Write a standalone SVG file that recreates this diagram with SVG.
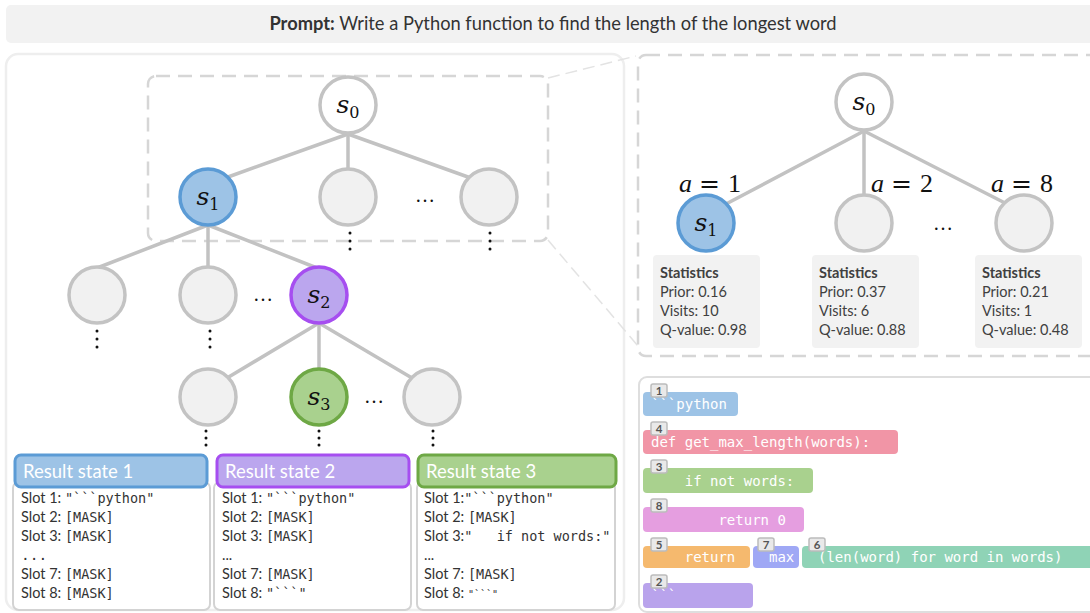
<svg xmlns="http://www.w3.org/2000/svg" width="1090" height="613" viewBox="0 0 1090 613">
<defs>
<style>
.sans{font-family:Lato,"Open Sans","Liberation Sans",sans-serif;}
.mono{font-family:"DejaVu Sans Mono","Liberation Mono",monospace;}
.edge{stroke:#c2c2c2;stroke-width:3.5;fill:none;stroke-linecap:round;}
.ng{fill:#f1f1f1;stroke:#c3c3c3;stroke-width:3.5;}
.nw{fill:#ffffff;stroke:#c3c3c3;stroke-width:3.5;}
.nb{fill:#9dc3e6;stroke:#5b9bd5;stroke-width:3.5;}
.np{fill:#bba6ee;stroke:#a64ef0;stroke-width:3.5;}
.ngr{fill:#a9d18e;stroke:#6ea845;stroke-width:3.5;}
.m{font-family:"DejaVu Serif",serif;font-style:italic;font-size:25px;fill:#111;text-anchor:middle;}
.sub{font-style:normal;font-size:16px;}
.dots{font-family:"Liberation Serif",serif;font-size:20px;fill:#111;text-anchor:middle;}
.vd{fill:#111;}
.lab{font-family:"Liberation Serif",serif;font-size:26px;fill:#111;}
.eq{font-family:"DejaVu Serif",serif;font-size:25px;}
.stat{fill:#f2f2f2;}
.st{font-size:14.5px;fill:#404040;}
.hdr{font-size:18.5px;fill:#ffffff;}
.slot{font-size:14.5px;fill:#333;}
.code{font-size:13.5px;}
.blk{stroke:none;}
.ct{font-size:14px;fill:#ffffff;white-space:pre;}
.badge{fill:#e9e9e9;stroke:#bcbcbc;stroke-width:1.5;}
.bt{font-size:11.5px;font-weight:bold;fill:#555;text-anchor:middle;}
</style>
</defs>

<!-- prompt bar -->
<g id="prompt">
<rect x="6" y="5" width="1100" height="38" rx="5" fill="#f2f2f2"/>
<text class="sans" x="553" y="30" text-anchor="middle" font-size="18.3" fill="#333"><tspan font-weight="bold">Prompt:</tspan> Write a Python function to find the length of the longest word</text>
</g>

<!-- panels -->
<g id="panels">
<rect x="6" y="54" width="618" height="556" rx="12" fill="none" stroke="#eeeeee" stroke-width="2.5"/>
<rect x="148" y="76" width="400" height="165" rx="8" fill="none" stroke="#d6d6d6" stroke-width="2.5" stroke-dasharray="14 8"/>
<rect x="638" y="55" width="480" height="301" rx="8" fill="none" stroke="#d6d6d6" stroke-width="2.5" stroke-dasharray="14 8"/>
<rect x="639" y="377" width="480" height="235" rx="8" fill="none" stroke="#dedede" stroke-width="2"/>
</g>

<!-- connectors -->
<g id="connectors">
<line x1="548" y1="78" x2="636" y2="56" stroke="#e3e3e3" stroke-width="1.5" stroke-dasharray="12 6"/>
<line x1="548" y1="240" x2="638" y2="346" stroke="#e3e3e3" stroke-width="1.5" stroke-dasharray="12 6"/>
<line class="edge" x1="348" y1="134" x2="228" y2="177"/>
<line class="edge" x1="348" y1="134" x2="348" y2="170"/>
<line class="edge" x1="348" y1="134" x2="468" y2="177"/>
<line class="edge" x1="208" y1="225" x2="97" y2="268"/>
<line class="edge" x1="208" y1="225" x2="208" y2="268"/>
<line class="edge" x1="208" y1="225" x2="317" y2="268"/>
<line class="edge" x1="319" y1="323" x2="227" y2="378"/>
<line class="edge" x1="319" y1="323" x2="319" y2="370"/>
<line class="edge" x1="319" y1="323" x2="412" y2="378"/>
<line class="edge" x1="864" y1="131" x2="726" y2="204"/>
<line class="edge" x1="864" y1="131" x2="864" y2="195"/>
<line class="edge" x1="864" y1="131" x2="1005" y2="203"/>
</g>

<!-- left tree nodes -->
<g id="L-s0"><circle class="nw" cx="348" cy="105" r="28"/><text class="m" x="348" y="113">s<tspan class="sub" dy="5">0</tspan></text></g>
<g id="L-s1"><circle class="nb" cx="208" cy="197" r="28"/><text class="m" x="208" y="205">s<tspan class="sub" dy="5">1</tspan></text></g>
<g id="L-n12"><circle class="ng" cx="348" cy="197" r="28"/></g>
<g id="L-n13"><circle class="ng" cx="489" cy="197" r="28"/></g>
<g id="L-n21"><circle class="ng" cx="97" cy="295" r="28"/></g>
<g id="L-n22"><circle class="ng" cx="208" cy="295" r="28"/></g>
<g id="L-s2"><circle class="np" cx="319" cy="295" r="28"/><text class="m" x="319" y="303">s<tspan class="sub" dy="5">2</tspan></text></g>
<g id="L-n31"><circle class="ng" cx="208" cy="397" r="28"/></g>
<g id="L-s3"><circle class="ngr" cx="319" cy="397" r="28"/><text class="m" x="319" y="405">s<tspan class="sub" dy="5">3</tspan></text></g>
<g id="L-n33"><circle class="ng" cx="432" cy="397" r="28"/></g>

<g id="L-ellipsis">
<text class="dots" x="425" y="202">…</text>
<text class="dots" x="263" y="301">…</text>
<text class="dots" x="374" y="403">…</text>
<circle class="vd" cx="350" cy="233" r="1.5"/><circle class="vd" cx="350" cy="241" r="1.5"/><circle class="vd" cx="350" cy="249" r="1.5"/>
<circle class="vd" cx="490" cy="233" r="1.5"/><circle class="vd" cx="490" cy="241" r="1.5"/><circle class="vd" cx="490" cy="249" r="1.5"/>
<circle class="vd" cx="97" cy="331" r="1.5"/><circle class="vd" cx="97" cy="339" r="1.5"/><circle class="vd" cx="97" cy="347" r="1.5"/>
<circle class="vd" cx="210" cy="331" r="1.5"/><circle class="vd" cx="210" cy="339" r="1.5"/><circle class="vd" cx="210" cy="347" r="1.5"/>
<circle class="vd" cx="206" cy="431" r="1.5"/><circle class="vd" cx="206" cy="438" r="1.5"/><circle class="vd" cx="206" cy="445" r="1.5"/>
<circle class="vd" cx="319" cy="431" r="1.5"/><circle class="vd" cx="319" cy="438" r="1.5"/><circle class="vd" cx="319" cy="445" r="1.5"/>
<circle class="vd" cx="433" cy="431" r="1.5"/><circle class="vd" cx="433" cy="438" r="1.5"/><circle class="vd" cx="433" cy="445" r="1.5"/>
</g>

<!-- right tree -->
<g id="R-s0"><circle class="nw" cx="864" cy="102" r="28"/><text class="m" x="864" y="110">s<tspan class="sub" dy="5">0</tspan></text></g>
<g id="R-s1"><circle class="nb" cx="706" cy="223" r="28"/><text class="m" x="706" y="231">s<tspan class="sub" dy="5">1</tspan></text>
<text class="lab"><tspan x="679" y="192" font-style="italic">a</tspan><tspan class="eq" x="699" y="192">=</tspan><tspan x="728" y="192">1</tspan></text></g>
<g id="R-n2"><circle class="ng" cx="864" cy="223" r="28"/>
<text class="lab"><tspan x="871" y="192" font-style="italic">a</tspan><tspan class="eq" x="891" y="192">=</tspan><tspan x="920" y="192">2</tspan></text></g>
<g id="R-n8"><circle class="ng" cx="1024" cy="223" r="28"/>
<text class="lab"><tspan x="991" y="192" font-style="italic">a</tspan><tspan class="eq" x="1011" y="192">=</tspan><tspan x="1040" y="192">8</tspan></text></g>
<text class="dots" x="943" y="230">…</text>

<!-- statistics -->
<g id="stats1"><rect class="stat" x="653" y="255" width="107" height="93" rx="4"/>
<text class="sans st" x="660" y="278" font-weight="bold">Statistics</text>
<text class="sans st" x="660" y="297">Prior: 0.16</text>
<text class="sans st" x="660" y="316">Visits: 10</text>
<text class="sans st" x="660" y="335">Q-value: 0.98</text></g>
<g id="stats2"><rect class="stat" x="812" y="255" width="107" height="93" rx="4"/>
<text class="sans st" x="819" y="278" font-weight="bold">Statistics</text>
<text class="sans st" x="819" y="297">Prior: 0.37</text>
<text class="sans st" x="819" y="316">Visits: 6</text>
<text class="sans st" x="819" y="335">Q-value: 0.88</text></g>
<g id="stats3"><rect class="stat" x="975" y="255" width="107" height="93" rx="4"/>
<text class="sans st" x="982" y="278" font-weight="bold">Statistics</text>
<text class="sans st" x="982" y="297">Prior: 0.21</text>
<text class="sans st" x="982" y="316">Visits: 1</text>
<text class="sans st" x="982" y="335">Q-value: 0.48</text></g>

<!-- result states -->
<g id="result1">
<rect x="13" y="482" width="197" height="128" rx="6" fill="#fff" stroke="#d3d3d3" stroke-width="2"/>
<rect x="15" y="455" width="192" height="32" rx="6" fill="#9dc3e6" stroke="#5b9bd5" stroke-width="3"/>
<text class="sans hdr" x="23" y="478">Result state 1</text>
<text class="sans slot" x="21" y="503">Slot 1: <tspan class="mono code">"```python"</tspan></text>
<text class="sans slot" x="21" y="522">Slot 2: <tspan class="mono code">[MASK]</tspan></text>
<text class="sans slot" x="21" y="541">Slot 3: <tspan class="mono code">[MASK]</tspan></text>
<text class="mono slot" x="21" y="560" font-size="10" fill="#777">...</text>
<text class="sans slot" x="21" y="579">Slot 7: <tspan class="mono code">[MASK]</tspan></text>
<text class="sans slot" x="21" y="598">Slot 8: <tspan class="mono code">[MASK]</tspan></text>
</g>
<g id="result2">
<rect x="214" y="482" width="197" height="128" rx="6" fill="#fff" stroke="#d3d3d3" stroke-width="2"/>
<rect x="217" y="455" width="192" height="32" rx="6" fill="#bba6ee" stroke="#a64ef0" stroke-width="3"/>
<text class="sans hdr" x="225" y="478">Result state 2</text>
<text class="sans slot" x="222" y="503">Slot 1: <tspan class="mono code">"```python"</tspan></text>
<text class="sans slot" x="222" y="522">Slot 2: <tspan class="mono code">[MASK]</tspan></text>
<text class="sans slot" x="222" y="541">Slot 3: <tspan class="mono code">[MASK]</tspan></text>
<text class="sans slot" x="222" y="560" font-size="11" fill="#777">...</text>
<text class="sans slot" x="222" y="579">Slot 7: <tspan class="mono code">[MASK]</tspan></text>
<text class="sans slot" x="222" y="598">Slot 8: <tspan class="mono code">"```"</tspan></text>
</g>
<g id="result3">
<rect x="417" y="482" width="198" height="128" rx="6" fill="#fff" stroke="#d3d3d3" stroke-width="2"/>
<rect x="418" y="455" width="198" height="32" rx="6" fill="#a9d18e" stroke="#6ea845" stroke-width="3"/>
<text class="sans hdr" x="426" y="478">Result state 3</text>
<text class="sans slot" x="424" y="503">Slot 1:<tspan class="mono code">"```python"</tspan></text>
<text class="sans slot" x="424" y="522">Slot 2: <tspan class="mono code">[MASK]</tspan></text>
<text class="sans slot" x="424" y="541" xml:space="preserve" style="white-space:pre">Slot 3:<tspan class="mono code">"   if not words:"</tspan></text>
<text class="sans slot" x="424" y="560" font-size="11" fill="#777">...</text>
<text class="sans slot" x="424" y="579">Slot 7: <tspan class="mono code">[MASK]</tspan></text>
<text class="sans slot" x="424" y="598">Slot 8: <tspan class="mono" font-size="10">"```"</tspan></text>
</g>

<!-- code blocks -->
<g id="code1"><rect class="blk" x="643" y="392" width="95" height="24" rx="4" fill="#9dc3e6"/>
<text class="mono ct" x="651" y="409">```python</text>
<rect class="badge" x="651" y="384" width="16" height="13" rx="2"/><text class="sans bt" x="659" y="395">1</text></g>
<g id="code4"><rect class="blk" x="643" y="430" width="255" height="24" rx="4" fill="#f195a6"/>
<text class="mono ct" x="651" y="447">def get_max_length(words):</text>
<rect class="badge" x="651" y="422" width="16" height="13" rx="2"/><text class="sans bt" x="659" y="433">4</text></g>
<g id="code3"><rect class="blk" x="643" y="468" width="170" height="25" rx="4" fill="#a9d18e"/>
<text class="mono ct" x="651" y="486" xml:space="preserve">    if not words:</text>
<rect class="badge" x="651" y="460" width="16" height="13" rx="2"/><text class="sans bt" x="659" y="471">3</text></g>
<g id="code8"><rect class="blk" x="643" y="507" width="161" height="25" rx="4" fill="#e59ee0"/>
<text class="mono ct" x="651" y="525" xml:space="preserve">        return 0</text>
<rect class="badge" x="651" y="499" width="16" height="13" rx="2"/><text class="sans bt" x="659" y="510">8</text></g>
<g id="code5"><rect class="blk" x="643" y="546" width="107" height="22" rx="4" fill="#f5b96e"/>
<text class="mono ct" x="651" y="562" xml:space="preserve">    return</text>
<rect class="badge" x="651" y="538" width="16" height="13" rx="2"/><text class="sans bt" x="659" y="549">5</text></g>
<g id="code7"><rect class="blk" x="753" y="546" width="46" height="22" rx="4" fill="#9fa8f5"/>
<text class="mono ct" x="769" y="562">max</text>
<rect class="badge" x="758" y="538" width="16" height="13" rx="2"/><text class="sans bt" x="766" y="549">7</text></g>
<g id="code6"><rect class="blk" x="802" y="546" width="300" height="22" rx="4" fill="#8fd3b6"/>
<text class="mono ct" x="818" y="562">(len(word) for word in words)</text>
<rect class="badge" x="809" y="538" width="16" height="13" rx="2"/><text class="sans bt" x="817" y="549">6</text></g>
<g id="code2"><rect class="blk" x="643" y="583" width="110" height="25" rx="4" fill="#b9a3ec"/>
<text class="mono ct" x="651" y="600">```</text>
<rect class="badge" x="651" y="575" width="16" height="13" rx="2"/><text class="sans bt" x="659" y="586">2</text></g>
</svg>
